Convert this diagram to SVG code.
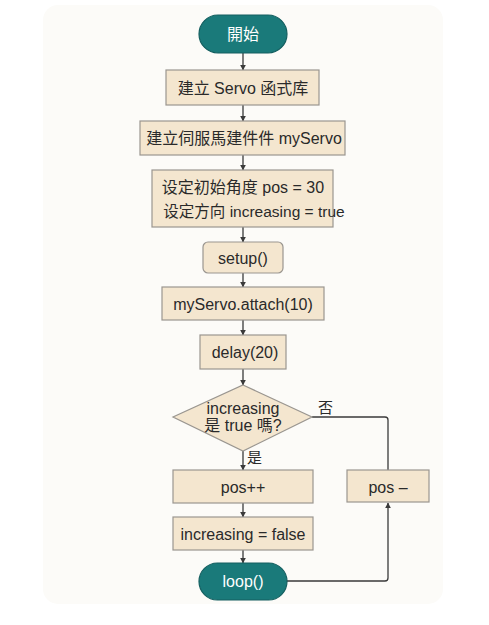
<svg xmlns="http://www.w3.org/2000/svg" width="489" height="625" viewBox="0 0 489 625">
<defs>
<marker id="ah" viewBox="0 0 10 10" refX="9" refY="5" markerWidth="6" markerHeight="6" orient="auto-start-reverse" markerUnits="userSpaceOnUse">
<path d="M0,0 L10,5 L0,10 z" fill="#3a3a3a"/>
</marker>
<style>
.box{fill:#f4e6cf;stroke:#9a9690;stroke-width:1.2}
.term{fill:#1a7a7a;stroke:#145f60;stroke-width:1.2}
.t{font-family:"Liberation Sans","Noto Sans CJK SC",sans-serif;font-size:16px;fill:#2a2a2a;text-anchor:middle;dominant-baseline:central}
.tw{fill:#ffffff}
.lbl{font-family:"Liberation Sans","Noto Sans CJK SC",sans-serif;font-size:15px;fill:#2a2a2a}
.c{fill:none;stroke:#3a3a3a;stroke-width:1.3}
</style>
</defs>
<rect x="0" y="0" width="489" height="625" fill="#ffffff"/>
<rect x="43" y="5" width="400" height="599" rx="15" fill="#fcfbf8"/>
<g id="connectors">
<line class="c" x1="243" y1="53" x2="243" y2="70" marker-end="url(#ah)"/>
<line class="c" x1="243" y1="105" x2="243" y2="121" marker-end="url(#ah)"/>
<line class="c" x1="243" y1="155" x2="243" y2="170" marker-end="url(#ah)"/>
<line class="c" x1="243" y1="227" x2="243" y2="242" marker-end="url(#ah)"/>
<line class="c" x1="243" y1="273" x2="243" y2="287" marker-end="url(#ah)"/>
<line class="c" x1="243" y1="320" x2="243" y2="335" marker-end="url(#ah)"/>
<line class="c" x1="243" y1="369" x2="243" y2="385" marker-end="url(#ah)"/>
<line class="c" x1="243" y1="451" x2="243" y2="470" marker-end="url(#ah)"/>
<line class="c" x1="243" y1="503" x2="243" y2="517" marker-end="url(#ah)"/>
<line class="c" x1="243" y1="550" x2="243" y2="563" marker-end="url(#ah)"/>
<path class="c" d="M312,417 H385 Q388,417 388,420 V470"/>
<path class="c" d="M287,581 H385 Q388,581 388,578 V503" marker-end="url(#ah)"/>
<text class="lbl" x="318" y="413">否</text>
<text class="lbl" x="247" y="463">是</text>
</g>
<g id="start">
<rect class="term" x="199" y="15" width="88" height="38" rx="19"/>
<text class="t tw" x="243" y="34">開始</text>
</g>
<g id="lib">
<rect class="box" x="166" y="70" width="153" height="35"/>
<text class="t" x="243" y="88">建立 Servo 函式库</text>
</g>
<g id="obj">
<rect class="box" x="140" y="121" width="205" height="34"/>
<text class="t" x="244" y="138">建立伺服馬建件件 myServo</text>
</g>
<g id="init">
<rect class="box" x="152" y="170" width="181" height="57"/>
<text class="t" x="243" y="187">设定初始角度 pos = 30</text>
<text class="t" x="254" y="211" style="font-size:15.5px">设定方向 increasing = true</text>
</g>
<g id="setup">
<rect class="box" x="203" y="242" width="80" height="31" rx="5"/>
<text class="t" x="243" y="258">setup()</text>
</g>
<g id="attach">
<rect class="box" x="162" y="287" width="162" height="33"/>
<text class="t" x="243" y="304">myServo.attach(10)</text>
</g>
<g id="delay">
<rect class="box" x="200" y="335" width="86" height="34"/>
<text class="t" x="245" y="352">delay(20)</text>
</g>
<g id="decision">
<polygon class="box" points="243,385 312,417 243,451 173,417"/>
<text class="t" x="243" y="408">increasing</text>
<text class="t" x="243" y="425">是 true 嗎?</text>
</g>
<g id="inc">
<rect class="box" x="173" y="470" width="140" height="33"/>
<text class="t" x="243" y="487">pos++</text>
</g>
<g id="dec">
<rect class="box" x="347" y="470" width="82" height="32"/>
<text class="t" x="388" y="487">pos –</text>
</g>
<g id="setfalse">
<rect class="box" x="173" y="517" width="140" height="33"/>
<text class="t" x="243" y="534">increasing = false</text>
</g>
<g id="loop">
<rect class="term" x="199" y="563" width="88" height="37" rx="18.5"/>
<text class="t tw" x="243" y="581">loop()</text>
</g>
</svg>
